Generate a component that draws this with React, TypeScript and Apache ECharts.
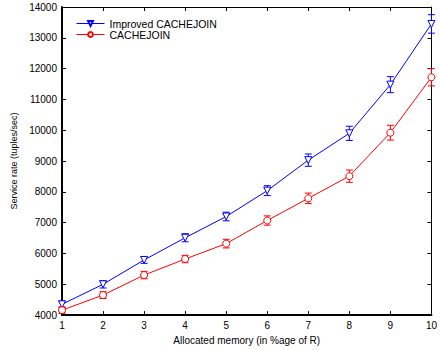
import React, { useEffect, useRef } from "react";
import * as echarts from "echarts";

const memory = [1, 2, 3, 4, 5, 6, 7, 8, 9, 10];
const improved = [4350, 5000, 5790, 6510, 7200, 8040, 9030, 9900, 11480, 13450];
const improvedErr = [110, 120, 110, 130, 140, 160, 200, 230, 260, 300];
const cachejoin = [4160, 4650, 5300, 5820, 6320, 7070, 7790, 8510, 9920, 11720];
const cachejoinErr = [110, 110, 120, 120, 140, 150, 170, 200, 240, 280];

const FONT = "Liberation Sans";

function errorSeries(name: string, vals: number[], errs: number[], color: string) {
  return {
    type: "custom",
    name: name + "-err",
    silent: true,
    z: 3,
    data: memory.map((m, i) => [m, vals[i] - errs[i], vals[i] + errs[i]]),
    renderItem: (params: any, api: any) => {
      const x = api.value(0);
      const lo = api.coord([x, api.value(1)]);
      const hi = api.coord([x, api.value(2)]);
      const w = 3.5;
      const st = { stroke: color, lineWidth: 1 };
      return {
        type: "group",
        children: [
          { type: "line", shape: { x1: lo[0], y1: lo[1], x2: hi[0], y2: hi[1] }, style: st },
          { type: "line", shape: { x1: lo[0] - w, y1: lo[1], x2: lo[0] + w, y2: lo[1] }, style: st },
          { type: "line", shape: { x1: hi[0] - w, y1: hi[1], x2: hi[0] + w, y2: hi[1] }, style: st },
        ],
      };
    },
  };
}

export default function App() {
  const ref = useRef<HTMLDivElement>(null);
  useEffect(() => {
    const chart = echarts.init(ref.current!, null, { renderer: "svg" });
    const tick = { show: true, inside: true, length: 4, lineStyle: { color: "#000", width: 1 } };
    chart.setOption({
      animation: false,
      backgroundColor: "#fff",
      textStyle: { fontFamily: FONT },
      grid: { left: 62, right: 5, top: 7, bottom: 31, containLabel: false },
      legend: {
        show: true,
        left: 71,
        top: 13,
        orient: "vertical",
        itemGap: 0,
        itemWidth: 28,
        itemHeight: 6,
        lineStyle: { width: 1 },
        textStyle: { fontFamily: FONT, fontSize: 10.5, color: "#000", lineHeight: 11 },
        data: ["Improved CACHEJOIN", "CACHEJOIN"],
      },
      xAxis: [
        {
          type: "value",
          min: 1,
          max: 10,
          interval: 1,
          name: "Allocated memory (in %age of R)",
          nameLocation: "middle",
          nameGap: 17,
          nameTextStyle: { fontFamily: FONT, fontSize: 10, color: "#000" },
          axisLabel: { fontFamily: FONT, fontSize: 10, color: "#000", margin: 5 },
          axisLine: { show: true, lineStyle: { color: "#000", width: 2 } },
          axisTick: tick,
          splitLine: { show: false },
        },
        {
          type: "value",
          position: "top",
          min: 1,
          max: 10,
          interval: 1,
          axisLabel: { show: false },
          axisLine: { show: true, lineStyle: { color: "#000", width: 1 } },
          axisTick: tick,
          splitLine: { show: false },
        },
      ],
      yAxis: [
        {
          type: "value",
          min: 4000,
          max: 14000,
          interval: 1000,
          name: "Service rate (tuples/sec)",
          nameLocation: "middle",
          nameGap: 43,
          nameTextStyle: { fontFamily: FONT, fontSize: 9, color: "#000" },
          axisLabel: {
            fontFamily: FONT,
            fontSize: 10,
            color: "#000",
            margin: 5,
            formatter: (v: number) => String(v),
          },
          axisLine: { show: true, lineStyle: { color: "#000", width: 2 } },
          axisTick: tick,
          splitLine: { show: false },
        },
        {
          type: "value",
          position: "right",
          min: 4000,
          max: 14000,
          interval: 1000,
          axisLabel: { show: false },
          axisLine: { show: true, lineStyle: { color: "#000", width: 1 } },
          axisTick: tick,
          splitLine: { show: false },
        },
      ],
      series: [
        {
          name: "Improved CACHEJOIN",
          type: "line",
          data: memory.map((m, i) => [m, improved[i]]),
          symbol: "triangle",
          symbolRotate: 180,
          symbolSize: 7,
          showAllSymbol: true,
          itemStyle: { color: "#fff", borderColor: "#0000ff", borderWidth: 1 },
          lineStyle: { color: "#0000ff", width: 1 },
          color: "#0000ff",
          z: 4,
        },
        {
          name: "CACHEJOIN",
          type: "line",
          data: memory.map((m, i) => [m, cachejoin[i]]),
          symbol: "circle",
          symbolSize: 7,
          showAllSymbol: true,
          itemStyle: { color: "#fff", borderColor: "#ff0000", borderWidth: 1 },
          lineStyle: { color: "#ff0000", width: 1 },
          color: "#ff0000",
          z: 4,
        },
        errorSeries("Improved CACHEJOIN", improved, improvedErr, "#0000ff"),
        errorSeries("CACHEJOIN", cachejoin, cachejoinErr, "#ff0000"),
      ],
    });
    return () => chart.dispose();
  }, []);
  return <div ref={ref} style={{ width: 440, height: 350, position: "absolute", left: 0, top: 0 }} />;
}
